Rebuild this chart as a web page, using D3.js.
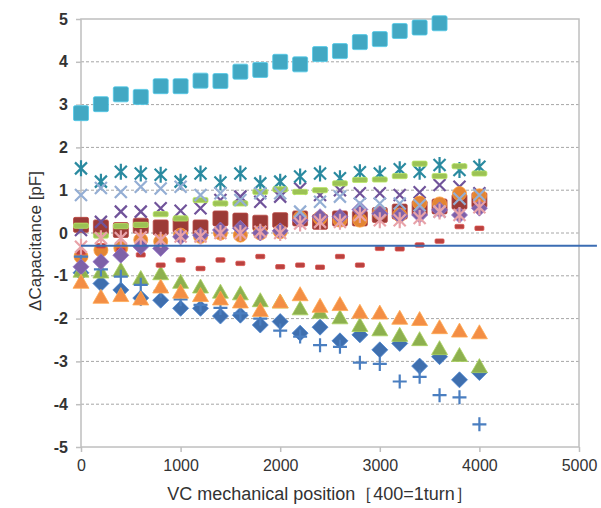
<!DOCTYPE html>
<html>
<head>
<meta charset="utf-8">
<script src="https://cdn.jsdelivr.net/npm/d3@7"></script>
<style>
  body { margin: 0; background: #fff; }
  text { font-family: "Liberation Sans", Arial, sans-serif; fill: #333; }
</style>
</head>
<body>
<svg id="mainsvg" width="601" height="508"></svg>
<script>
const svg = d3.select('#mainsvg');
const width = +svg.attr('width');
const height = +svg.attr('height');
const plot = {left: 81, right: 579, top: 19, bottom: 447};

// x positions (VC mechanical position)
const positions = [0, 200, 400, 600, 800, 1000, 1200, 1400, 1600, 1800, 2000,
                   2200, 2400, 2600, 2800, 3000, 3200, 3400, 3600, 3800, 4000];
const xTicks = [0, 1000, 2000, 3000, 4000, 5000];
const yTicks = [-5, -4, -3, -2, -1, 0, 1, 2, 3, 4, 5];

// series values (ΔCapacitance, pF)
const s01Diamond = [-0.93, -1.18, -1.33, -1.52, -1.57, -1.76, -1.76, -1.94, -1.92, -2.15, -2.07, -2.34, -2.2, -2.52, -2.38, -2.73, -2.58, -3.11, -2.89, -3.43, -3.26];
const s02Square = [0.19, 0.13, 0.07, 0.17, 0.13, 0.19, 0.13, 0.34, 0.29, 0.24, 0.3, 0.34, 0.26, 0.34, 0.34, 0.42, 0.5, 0.58, 0.62, 0.73, 0.77];
const s03Triangle = [-0.88, -0.9, -0.86, -1.05, -0.94, -1.14, -1.25, -1.37, -1.41, -1.57, -1.6, -1.76, -1.84, -1.97, -2.15, -2.25, -2.38, -2.48, -2.69, -2.85, -3.11];
const s04Cross = [0.07, 0.26, 0.5, 0.5, 0.58, 0.52, 0.58, 0.77, 0.85, 0.73, 0.85, 1.04, 0.89, 1.0, 0.93, 0.93, 0.89, 0.95, 1.12, 1.08, 0.93];
const s05Star = [1.51, 1.2, 1.43, 1.39, 1.36, 1.2, 1.39, 1.18, 1.39, 1.16, 1.2, 1.32, 1.39, 1.28, 1.42, 1.39, 1.49, 1.43, 1.59, 1.47, 1.55];
const s06Circle = [-0.55, -0.4, -0.35, -0.16, -0.2, -0.05, -0.08, 0.0, -0.05, 0.0, 0.03, 0.35, 0.35, 0.3, 0.3, 0.47, 0.42, 0.7, 0.68, 0.92, 0.87];
const s07Plus = [-0.55, -0.85, -1.02, -1.21, -1.35, -1.55, -1.68, -1.75, -1.88, -2.0, -2.28, -2.42, -2.62, -2.66, -3.03, -3.06, -3.47, -3.36, -3.79, -3.84, -4.47];
const s08Dash = [-0.45, -0.3, -0.4, -0.51, -0.75, -0.63, -0.83, -0.63, -0.71, -0.55, -0.79, -0.75, -0.8, -0.55, -0.75, -0.36, -0.37, -0.28, -0.19, 0.15, 0.11];
const s09Bar = [0.17, -0.06, 0.16, 0.19, 0.44, 0.34, 0.77, 0.69, 0.69, 0.96, 1.02, 0.96, 1.0, 1.16, 1.24, 1.25, 1.33, 1.62, 1.33, 1.56, 1.39];
const s10Diamond = [-0.79, -0.67, -0.52, -0.32, -0.36, -0.09, -0.05, 0.07, 0.11, 0.0, 0.05, 0.3, 0.38, 0.38, 0.55, 0.45, 0.4, 0.42, 0.54, 0.42, 0.58];
const s11Square = [2.8, 3.01, 3.24, 3.18, 3.43, 3.43, 3.56, 3.55, 3.77, 3.81, 4.0, 3.94, 4.18, 4.25, 4.46, 4.53, 4.72, 4.8, 4.9];
const s12Triangle = [-1.14, -1.49, -1.45, -1.53, -1.25, -1.37, -1.45, -1.53, -1.6, -1.8, -1.6, -1.43, -1.7, -1.66, -1.84, -1.86, -1.98, -2.01, -2.2, -2.28, -2.32];
const s13Cross = [0.89, 1.05, 0.96, 1.08, 1.04, 1.08, 0.89, 0.93, 0.77, 0.93, 0.93, 0.5, 0.73, 0.85, 0.69, 0.69, 0.69, 0.65, 0.5, 0.8, 0.89];
const s14Star = [-0.32, -0.12, -0.12, -0.1, -0.16, -0.08, -0.08, 0.0, 0.0, 0.03, 0.0, 0.22, 0.26, 0.26, 0.42, 0.3, 0.3, 0.35, 0.5, 0.42, 0.6];

// reference line
const refX = [0, 5180];
const refY = [-0.3, -0.3];

const series = [
  {values: s01Diamond, shape: 'diamond', color: '#3f6fae'},
  {values: s02Square, shape: 'square', color: '#9c3b37'},
  {values: s03Triangle, shape: 'triangle', color: '#8db04f'},
  {values: s04Cross, shape: 'x', color: '#70539a'},
  {values: s05Star, shape: 'star', color: '#2a8aa0'},
  {values: s06Circle, shape: 'circle', color: '#e38533'},
  {values: s07Plus, shape: 'plus', color: '#4a7ec0'},
  {values: s08Dash, shape: 'dash', color: '#b8423f'},
  {values: s09Bar, shape: 'bar', color: '#9cc255'},
  {values: s10Diamond, shape: 'diamond', color: '#7e61a8'},
  {values: s11Square, shape: 'square', color: '#42a8c3'},
  {values: s12Triangle, shape: 'triangle', color: '#f38e45'},
  {values: s13Cross, shape: 'x', color: '#94aed4'},
  {values: s14Star, shape: 'star', color: '#e8a2a8'}
];

const xScale = d3.scaleLinear().domain([0, 5000]).range([plot.left, plot.right]);
const yScale = d3.scaleLinear().domain([-5, 5]).range([plot.bottom, plot.top]);

svg.append('rect').attr('width', width).attr('height', height).attr('fill', '#fff');

// gridlines
svg.append('g').selectAll('line')
  .data(yTicks.filter(d => d > -5 && d < 5))
  .join('line')
  .attr('x1', plot.left).attr('x2', plot.right)
  .attr('y1', d => yScale(d)).attr('y2', d => yScale(d))
  .attr('stroke', '#a6a6a6')
  .attr('stroke-width', 1)
  .attr('stroke-dasharray', '3,2');

// plot border
svg.append('rect')
  .attr('x', plot.left).attr('y', plot.top)
  .attr('width', plot.right - plot.left).attr('height', plot.bottom - plot.top)
  .attr('fill', 'none').attr('stroke', '#bfbfbf').attr('stroke-width', 1.5);

// axes
const yAxis = d3.axisLeft(yScale).tickValues(yTicks).tickFormat(d => String(d)).tickSize(5).tickPadding(8);
const yAxisGroup = svg.append('g').attr('transform', `translate(${plot.left},0)`).call(yAxis);
yAxisGroup.select('.domain').remove();
yAxisGroup.selectAll('.tick line').attr('stroke', '#bfbfbf').attr('stroke-width', 1.5);
yAxisGroup.selectAll('.tick text')
  .attr('font-size', 16).attr('font-weight', 'bold').attr('fill', '#333')
  .attr('font-family', '"Liberation Sans", Arial, sans-serif');

const xAxis = d3.axisBottom(xScale).tickValues(xTicks).tickFormat(d => String(d)).tickSize(5).tickPadding(8);
const xAxisGroup = svg.append('g').attr('transform', `translate(0,${plot.bottom})`).call(xAxis);
xAxisGroup.select('.domain').remove();
xAxisGroup.selectAll('.tick line').attr('stroke', '#bfbfbf').attr('stroke-width', 1.5);
xAxisGroup.selectAll('.tick text')
  .attr('font-size', 16).attr('fill', '#333')
  .attr('font-family', '"Liberation Sans", Arial, sans-serif');

// axis titles
svg.append('text')
  .attr('x', 320).attr('y', 500)
  .attr('text-anchor', 'middle')
  .attr('font-size', 18)
  .text('VC mechanical position［400=1turn］');

svg.append('text')
  .attr('transform', 'translate(41,241) rotate(-90)')
  .attr('text-anchor', 'middle')
  .attr('font-size', 17)
  .text('ΔCapacitance [pF]');

// markers
const shapes = {
  diamond: g => g.append('path').attr('d', 'M0,-8L8,0L0,8L-8,0Z'),
  square: g => g.append('rect').attr('x', -7.5).attr('y', -7.5).attr('width', 15).attr('height', 15).attr('rx', 1.5),
  triangle: g => g.append('path').attr('d', 'M0,-7.5L8,6.5L-8,6.5Z'),
  circle: g => g.append('circle').attr('r', 7),
  dash: g => g.append('rect').attr('x', -4.5).attr('y', -2.2).attr('width', 9).attr('height', 4.4).attr('rx', 1),
  bar: g => g.append('rect').attr('x', -7.5).attr('y', -2.6).attr('width', 15).attr('height', 5.2).attr('rx', 1.5),
  x: g => g.append('path').attr('d', 'M-6,-6L6,6M-6,6L6,-6'),
  star: g => g.append('path').attr('d', 'M-6,-6L6,6M-6,6L6,-6M0,-8L0,8'),
  plus: g => g.append('path').attr('d', 'M-7,0L7,0M0,-7L0,7')
};
const lineShapes = ['x', 'star', 'plus'];

const markerLayer = svg.append('g');
series.forEach(s => {
  const pts = s.values.map((v, i) => ({x: positions[i], y: v}));
  const g = markerLayer.append('g');
  g.selectAll('g')
    .data(pts)
    .join('g')
    .attr('transform', d => `translate(${xScale(d.x)},${yScale(d.y)})`)
    .each(function() {
      const m = shapes[s.shape](d3.select(this));
      if (lineShapes.includes(s.shape)) {
        m.attr('fill', 'none').attr('stroke', s.color).attr('stroke-width', 2.2);
      } else {
        m.attr('fill', s.color)
          .attr('stroke', d3.color(s.color).brighter(0.5))
          .attr('stroke-width', 0.8);
      }
    });
});

// reference line
const refData = refX.map((x, i) => ({x: x, y: refY[i]}));
svg.append('path')
  .datum(refData)
  .attr('d', d3.line().x(d => xScale(d.x)).y(d => yScale(d.y)))
  .attr('stroke', '#3b6db3')
  .attr('stroke-width', 2)
  .attr('fill', 'none');
</script>
</body>
</html>
